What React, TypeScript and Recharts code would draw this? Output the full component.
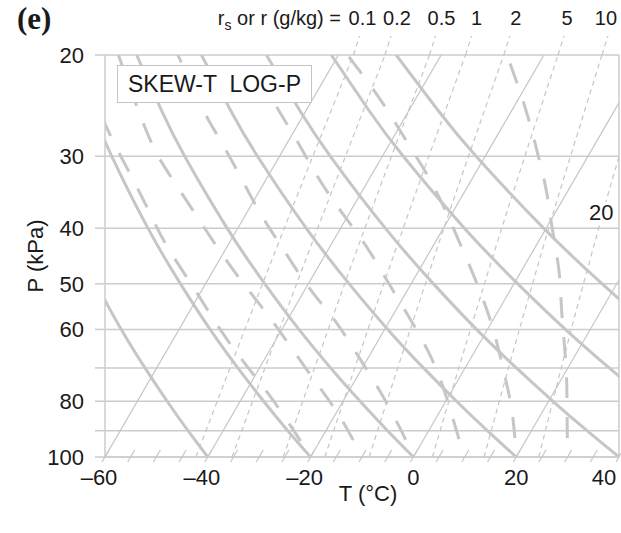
import React from 'react';
import { LineChart, Line, XAxis, YAxis, CartesianGrid, ReferenceLine } from 'recharts';

// ---------- axes ----------
const pressureTicks = [20, 30, 40, 50, 60, 70, 80, 90, 100];
const pressureUnlabelled = [70, 90];
const tempTicks = [-60, -55, -50, -45, -40, -35, -30, -25, -20, -15, -10, -5, 0, 5, 10, 15, 20, 25, 30, 35, 40];
const tempLabelled = [-60, -40, -20, 0, 20, 40];

// ---------- isotherms (skewed x at 100 kPa and at 20 kPa) ----------
const isothermBottomX = [-60, -40, -20, 0, 20, 40];
const isothermTopX = [-14.6, 5.4, 25.4, 45.4, 65.4, 85.4];

// ---------- dry adiabats (skewed x at the levels below) ----------
const dryLevels = [100, 90, 80, 70, 60, 50, 40, 30, 25, 20];
const dryM40 = [-40, -43.85, -47.91, -52.22, -56.83, -61.71, -67.04, -72.86, -75.91, -79.11];
const dryM20 = [-20, -24.44, -29.14, -34.16, -39.55, -45.31, -51.65, -58.68, -62.45, -66.48];
const dry0 = [0, -5.03, -10.37, -16.1, -22.27, -28.9, -36.25, -44.5, -48.99, -53.85];
const dry20 = [20, 14.38, 8.39, 1.96, -4.99, -12.49, -20.86, -30.33, -35.53, -41.23];
const dry40 = [40, 33.78, 27.16, 20.03, 12.29, 3.91, -5.47, -16.15, -22.07, -28.6];
const dry60 = [60, 53.18, 45.92, 38.09, 29.57, 20.32, 9.92, -1.97, -8.61, -15.97];
const dry80 = [80, 72.6, 64.69, 56.15, 46.85, 36.73, 25.32, 12.2, 4.85, -3.35];

// ---------- moist (saturated) adiabats: [skewed x, P kPa] ----------
const moistM20 = [[-20, 100], [-23.62, 89], [-28.39, 77.3], [-33.44, 67.6], [-38.31, 58.7], [-42.68, 50.9], [-47.74, 43.3], [-51.25, 37.7], [-54.8, 32.6], [-58.7, 27.9], [-62, 24]];
const moistM10 = [[-10, 100], [-14.28, 85.2], [-19.14, 73.8], [-24, 64.1], [-28.87, 55.8], [-33.93, 48.8], [-38.99, 42.1], [-43.27, 36.8], [-47.74, 32], [-51.73, 27.4], [-57.4, 20]];
const moist0 = [[0, 100], [-2.41, 89.8], [-6.3, 77.4], [-10, 68.4], [-15.06, 58.3], [-20.5, 50.5], [-25.56, 43.2], [-29.55, 38], [-33.54, 32.7], [-37.6, 28.1], [-40.9, 24.9], [-45.8, 20]];
const moist10 = [[10, 100], [8.68, 91.9], [6.34, 78.3], [3.23, 66.5], [-0.86, 57.1], [-5.1, 49.4], [-9.2, 43], [-14.28, 37.2], [-18.95, 32.2], [-22.84, 28], [-26.5, 24.7], [-32.2, 20]];
const moist20 = [[20, 100], [19.2, 83.5], [17.6, 71.1], [15.5, 59.9], [12.8, 51.1], [10.2, 44.9], [6.3, 37.4], [2.5, 32.1], [-1.8, 27.8], [-6.3, 24], [-12.8, 20]];
const moist30 = [[30, 100], [29.9, 83.9], [29.7, 69.8], [28.9, 56.6], [28.3, 47.3], [27, 40], [25.8, 34.2], [23.85, 28.9], [21.5, 24.3], [18.2, 20]];

// ---------- mixing-ratio lines (skewed x at the levels below) ----------
const mixLevels = [100, 70, 50, 35, 20];
const mix01 = [-42.3, -35.68, -29.35, -22.55, -11.66];
const mix02 = [-35.28, -28.88, -22.73, -16.12, -5.53];
const mix05 = [-25.33, -19.23, -13.37, -7.05, 3.13];
const mix1 = [-17.23, -11.4, -5.77, 0.32, 10.14];
const mix2 = [-8.6, -3.05, 2.32, 8.14, 17.58];
const mix5 = [3.71, 8.83, 13.82, 19.26, 28.13];
const mix10 = [13.75, 18.51, 23.17, 28.28, 36.68];
const mix20Levels = [100, 70, 50, 37.5, 35, 20];
const mix20 = [24.41, 28.77, 33.08, 36.92, 37.84, 45.71];
const mixTopLabels = ['0.1', '0.2', '0.5', '1', '2', '5', '10'];
const mixLabelNudge = [9, 12, 12, 11, 12, 9, 4];

// ---------- styling ----------
const LINE = '#c6c6c6';
const GRID = '#cccccc';
const TEXT = '#1a1a1a';
const FONT = "'Liberation Sans', Arial, Helvetica, sans-serif";

const fromLevels = (xs: number[], ps: number[]) => xs.map((x, i) => ({ x, p: ps[i] }));
const fromPairs = (pairs: number[][]) => pairs.map(([x, p]) => ({ x, p }));

const isotherms = isothermBottomX.map((x0, i) => [{ x: x0, p: 100 }, { x: isothermTopX[i], p: 20 }]);
const dryAdiabats = [dryM40, dryM20, dry0, dry20, dry40, dry60, dry80].map((xs) => fromLevels(xs, dryLevels));
const moistAdiabats = [moistM20, moistM10, moist0, moist10, moist20, moist30].map(fromPairs);
const mixLines = [mix01, mix02, mix05, mix1, mix2, mix5, mix10].map((xs) => fromLevels(xs, mixLevels));
const mix20Line = fromLevels(mix20, mix20Levels);

const XTick = (props: any) => {
  const { x, y, payload } = props;
  const v = payload.value as number;
  const show = tempLabelled.includes(v);
  // negative labels hang their dash to the left; the last label is pulled inside the frame
  const shift = v === 40 ? -15 : v < 0 ? -6 : 0;
  return (
    <g>
      <line x1={x - 3} y1={y + 5} x2={x + 4} y2={y - 7} stroke={LINE} strokeWidth={1.2} />
      {show && (
        <text x={x + shift} y={y + 12} dy="0.71em" textAnchor="middle" fontSize={22} fill={TEXT} fontFamily={FONT}>
          {v < 0 ? '\u2013' + Math.abs(v) : String(v)}
        </text>
      )}
    </g>
  );
};

const makeTopLabel = (text: string, lastIndex: number, nudge: number) => (props: any) => {
  const { x, y, index } = props;
  if (index !== lastIndex) return <g key={`l-${index}`} />;
  return (
    <g key={`l-${index}`}>
      <line x1={x} y1={y} x2={x + 6} y2={y - 19} stroke={LINE} strokeWidth={1.2} strokeDasharray="5 4" />
      <text x={x + nudge} y={y - 30} textAnchor="middle" fontSize={20} fill={TEXT} fontFamily={FONT}>
        {text}
      </text>
    </g>
  );
};

const label20 = (props: any) => {
  const { x, y, index } = props;
  if (index !== 3) return <g key={`m-${index}`} />;
  return (
    <g key={`m-${index}`}>
      <rect x={x - 16} y={y - 10} width={28} height={20} fill="#ffffff" />
      <text x={x - 2} y={y} dy="0.355em" textAnchor="middle" fontSize={22} fill={TEXT} fontFamily={FONT}>
        20
      </text>
    </g>
  );
};

const YLabel = (props: any) => {
  const { viewBox } = props;
  const cx = 35;
  const cy = viewBox.y + viewBox.height / 2;
  return (
    <text x={cx} y={cy} transform={`rotate(-90, ${cx}, ${cy})`} textAnchor="middle" dy="0.355em" fontSize={22} fill={TEXT} fontFamily={FONT}>
      P (kPa)
    </text>
  );
};

const XLabel = (props: any) => {
  const { viewBox } = props;
  const cx = viewBox.x + viewBox.width / 2 + 6;
  return (
    <text x={cx} y={501} textAnchor="middle" fontSize={22} fill={TEXT} fontFamily={FONT}>
      T (°C)
    </text>
  );
};

export default function App() {
  return (
    <div style={{ position: 'absolute', left: 0, top: 0, width: 621, height: 533, background: '#fff' }}>
      <LineChart width={621} height={533} margin={{ top: 55, right: 2, bottom: 0, left: 0 }}>
        <CartesianGrid horizontal vertical={false} stroke={GRID} strokeWidth={1.5} />
        <XAxis
          type="number"
          dataKey="x"
          domain={[-60, 40]}
          allowDataOverflow
          ticks={tempTicks}
          interval={0}
          tickSize={0}
          tickMargin={0}
          tickLine={false}
          tick={<XTick />}
          height={76}
          axisLine={{ stroke: GRID, strokeWidth: 1.5 }}
          label={<XLabel />}
        />
        <YAxis
          type="number"
          dataKey="p"
          scale="log"
          domain={[20, 100]}
          allowDataOverflow
          reversed
          ticks={pressureTicks}
          interval={0}
          width={105}
          tickSize={10}
          tickMargin={11}
          tickLine={{ stroke: GRID, strokeWidth: 1.5 }}
          axisLine={{ stroke: GRID, strokeWidth: 1.5 }}
          tickFormatter={(v: number) => (pressureUnlabelled.includes(v) ? '' : String(v))}
          tick={{ fontSize: 22, fill: TEXT, fontFamily: FONT }}
          label={<YLabel />}
        />
        <ReferenceLine x={40} stroke={GRID} strokeWidth={1.5} />

        {mixLines.map((d, i) => (
          <Line
            key={`mix-${i}`}
            data={d}
            dataKey="p"
            type="natural"
            stroke={LINE}
            strokeWidth={1.2}
            strokeDasharray="5 4"
            dot={false}
            activeDot={false}
            isAnimationActive={false}
            label={makeTopLabel(mixTopLabels[i], d.length - 1, mixLabelNudge[i])}
          />
        ))}
        <Line
          data={mix20Line}
          dataKey="p"
          type="natural"
          stroke={LINE}
          strokeWidth={1.2}
          strokeDasharray="5 4"
          dot={false}
          activeDot={false}
          isAnimationActive={false}
          label={label20}
        />
        {isotherms.map((d, i) => (
          <Line key={`iso-${i}`} data={d} dataKey="p" type="linear" stroke={LINE} strokeWidth={1.2} dot={false} activeDot={false} isAnimationActive={false} />
        ))}
        {dryAdiabats.map((d, i) => (
          <Line key={`dry-${i}`} data={d} dataKey="p" type="natural" stroke={LINE} strokeWidth={3} dot={false} activeDot={false} isAnimationActive={false} />
        ))}
        {moistAdiabats.map((d, i) => (
          <Line
            key={`moist-${i}`}
            data={d}
            dataKey="p"
            type="natural"
            stroke={LINE}
            strokeWidth={3}
            strokeDasharray="21 19"
            strokeDashoffset={21}
            dot={false}
            activeDot={false}
            isAnimationActive={false}
          />
        ))}
      </LineChart>

      <svg width={621} height={50} style={{ position: 'absolute', left: 0, top: 0, pointerEvents: 'none' }}>
        <text x={17} y={29} fontSize={31} fontWeight="bold" fill={TEXT} fontFamily="'Liberation Serif', 'Times New Roman', serif">
          (e)
        </text>
        <text x={341} y={25} textAnchor="end" fontSize={20} fill={TEXT} fontFamily={FONT}>
          r<tspan fontSize={14} dy={5}>s</tspan>
          <tspan dy={-5}>{'  or  r (g/kg) ='}</tspan>
        </text>
      </svg>

      <div
        style={{
          position: 'absolute',
          left: 117,
          top: 65,
          width: 195,
          height: 38,
          boxSizing: 'border-box',
          border: '1.5px solid #c4c4c4',
          background: '#fff',
          fontFamily: FONT,
          fontSize: 23,
          color: TEXT,
          display: 'flex',
          alignItems: 'center',
          justifyContent: 'center',
          whiteSpace: 'pre',
        }}
      >
        {'SKEW-T  LOG-P'}
      </div>
    </div>
  );
}
